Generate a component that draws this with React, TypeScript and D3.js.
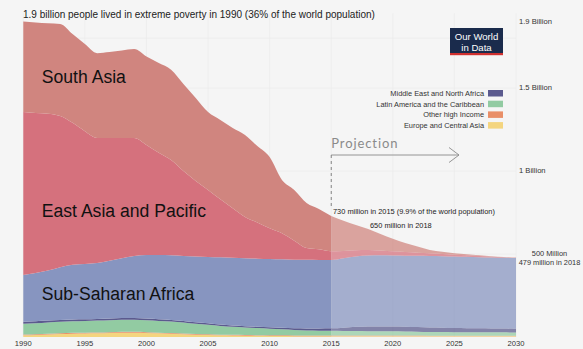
import React from "react";
import * as d3 from "d3";

const years = d3.range(1990, 2031);
// values in millions
const europeCentralAsia = [10,12,15,18,20,21,22,24,26,26,24,22,20,17,14,12,10,9,8,7,6,6,5,5,5,5,5,5,5,5,5,5,5,4,4,4,4,4,4,4,4];
const otherHighIncome = [5,5,5,5,5,5,5,5,5,5,5,4,4,4,4,4,4,4,4,4,4,4,4,4,4,4,4,4,4,4,4,4,4,4,4,4,4,4,4,4,4];
const latinAmerica = [65,66,68,69,70,71,72,72,73,73,72,71,70,67,62,58,53,48,45,43,40,36,33,30,29,28,27,27,26,25,25,24,23,22,22,21,21,20,20,20,19];
const middleEastNorthAfrica = [12,12,11,11,11,10,10,10,10,10,10,10,9,9,9,9,8,8,8,8,8,9,10,12,13,15,20,25,28,30,30,29,28,27,26,25,24,24,23,23,22];
const subSaharanAfrica = [281,290,301,317,329,333,337,349,361,374,383,387,389,391,396,399,405,409,410,410,412,413,414,414,413,412,419,424,428,428,427,428,429,431,431,431,430,429,428,426,427];
const eastAsiaPacific = [982,965,945,911,855,800,753,739,724,711,663,616,574,512,455,404,350,297,248,218,185,157,114,71,64,52,43,37,33,29,25,22,19,16,13,11,9,7,5,3,1];
const southAsia = [545,545,545,555,535,525,511,518,527,536,533,540,544,524,500,469,477,484,494,460,429,321,306,271,243,213,182,153,127,99,76,54,37,20,14,9,6,4,3,2,2];

const seriesKeys = ["europe", "otherHigh", "latam", "mena", "ssa", "eastAsia", "southAsia"];
const seriesValues = [europeCentralAsia, otherHighIncome, latinAmerica, middleEastNorthAfrica, subSaharanAfrica, eastAsiaPacific, southAsia];
const seriesColors = ["#f4d57f", "#e98f68", "#92cba2", "#5b5a8e", "#8795c0", "#d5717d", "#d0857f"];

const legendNames = ["Middle East and North Africa", "Latin America and the Caribbean", "Other high Income", "Europe and Central Asia"];
const legendColors = ["#5b5a8e", "#92cba2", "#e98f68", "#f4d57f"];

const xTicks = [1990, 1995, 2000, 2005, 2010, 2015, 2020, 2025, 2030];
const rightLabels = [
  { v: 1900, t: "1.9 Billion" },
  { v: 1500, t: "1.5 Billion" },
  { v: 1000, t: "1 Billion" },
];

const regionLabels = [
  { t: "South Asia", year: 1991.5, v: 1530 },
  { t: "East Asia and Pacific", year: 1991.5, v: 725 },
  { t: "Sub-Saharan Africa", year: 1991.5, v: 222 },
];

export default function App() {
  const W = 583, H = 349;
  const x = d3.scaleLinear().domain([1990, 2030]).range([23.3, 516]);
  const y = d3.scaleLinear().domain([0, 1900]).range([337, 337 - 1.9 * 166]);

  const table = years.map((yr, i) => {
    const row: any = { year: yr };
    seriesKeys.forEach((k, j) => (row[k] = seriesValues[j][i]));
    return row;
  });
  const stacked = d3.stack().keys(seriesKeys)(table);
  const area = d3
    .area<any>()
    .x((d) => x(d.data.year))
    .y0((d) => y(d[0]))
    .y1((d) => y(d[1]))
    .curve(d3.curveMonotoneX);

  const font = "'Liberation Sans', Arial, Helvetica, sans-serif";
  const x15 = x(2015);

  return (
    <svg width={W} height={H} style={{ position: "fixed", left: 0, top: 0, display: "block" }} fontFamily={font}>
      <defs>
        <clipPath id="past">
          <rect x={0} y={0} width={x15} height={H} />
        </clipPath>
        <clipPath id="proj">
          <rect x={x15} y={0} width={W - x15} height={H} />
        </clipPath>
      </defs>
      <rect width={W} height={H} fill="#f5f5f5" />
      {/* grid */}
      {xTicks.map((t) => (
        <line key={t} x1={x(t)} x2={x(t)} y1={y(1950)} y2={y(0)} stroke="#ececec" strokeWidth={0.8} />
      ))}
      {[500, 1000, 1500, 1800].map((v) => (
        <line key={v} x1={x(1990)} x2={x(2030)} y1={y(v)} y2={y(v)} stroke="#ececec" strokeWidth={0.8} />
      ))}
      <g clipPath="url(#past)">
        {stacked.map((s, i) => (
          <path key={s.key} d={area(s as any) || ""} fill={seriesColors[i]} />
        ))}
      </g>
      <g clipPath="url(#proj)">
        {stacked.map((s, i) => (
          <path key={s.key} d={area(s as any) || ""} fill={seriesColors[i]} fillOpacity={0.74} />
        ))}
      </g>

      {/* region labels */}
      {regionLabels.map((r) => (
        <text key={r.t} x={x(r.year)} y={y(r.v)} fontSize={17.6} fill="#111">
          {r.t}
        </text>
      ))}

      {/* top annotation */}
      <text x={23} y={18} fontSize={10} fill="#222">
        1.9 billion people lived in extreme poverty in 1990 (36% of the world population)
      </text>

      {/* right axis labels */}
      {rightLabels.map((r) => (
        <text key={r.t} x={519} y={y(r.v) + 2} fontSize={7.6} fill="#333">
          {r.t}
        </text>
      ))}
      <text x={549.5} y={256} fontSize={7.4} fill="#333" textAnchor="middle">500 Million</text>
      <text x={549.5} y={265} fontSize={7.4} fill="#333" textAnchor="middle">479 million in 2018</text>

      {/* x axis */}
      {xTicks.map((t) => (
        <text key={t} x={x(t)} y={346} fontSize={7.6} fill="#333" textAnchor="middle">
          {t}
        </text>
      ))}

      {/* legend */}
      {legendNames.map((n, i) => (
        <g key={n}>
          <text x={484} y={96 + i * 10.7} fontSize={7.4} fill="#333" textAnchor="end">
            {n}
          </text>
          <rect x={488} y={90 + i * 10.7} width={15} height={6.5} fill={legendColors[i]} />
        </g>
      ))}

      {/* logo */}
      <rect x={450} y={28} width={53} height={26} fill="#1a2b4c" />
      <rect x={450} y={53} width={53} height={2.2} fill="#d0302f" />
      <text x={476.5} y={40} fontSize={9.6} fill="#fff" textAnchor="middle">Our World</text>
      <text x={476.5} y={50.5} fontSize={9.6} fill="#fff" textAnchor="middle">in Data</text>

      {/* projection */}
      <text x={x15} y={148} fontSize={13} fill="#8a8a8a" letterSpacing={0.9} fontFamily="Lato, 'Open Sans', sans-serif">
        Projection
      </text>
      <line x1={x15} x2={459} y1={155} y2={155} stroke="#8a8a8a" strokeWidth={0.9} />
      <polyline points="449,147.5 459,155 449,162.5" fill="none" stroke="#8a8a8a" strokeWidth={0.9} />
      <line x1={x15} x2={x15} y1={155} y2={209} stroke="#777" strokeWidth={0.9} strokeDasharray="3,3" />
      <text x={333} y={213.5} fontSize={7.4} fill="#222">
        730 million in 2015 (9.9% of the world population)
      </text>
      <text x={370} y={228} fontSize={7.4} fill="#222">
        650 million in 2018
      </text>
    </svg>
  );
}
